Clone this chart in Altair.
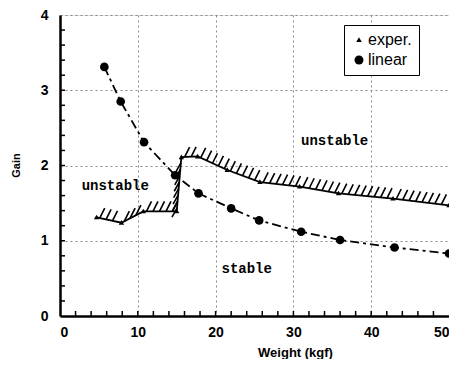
import altair as alt
import pandas as pd
import numpy as np

# ---- data ----
exper_x = [4.7, 7.9, 10.7, 15.0, 15.6, 17.7, 21.5, 25.7, 30.8, 35.8, 42.8, 50.0]
exper_y = [1.31, 1.24, 1.39, 1.39, 2.11, 2.12, 1.94, 1.78, 1.72, 1.63, 1.56, 1.47]
linear_x = [5.7, 7.8, 10.8, 14.8, 17.8, 22.0, 25.6, 31.0, 36.0, 43.0, 50.0]
linear_y = [3.31, 2.85, 2.31, 1.87, 1.63, 1.43, 1.27, 1.12, 1.01, 0.91, 0.83]
series_names = ["exper.", "linear"]
x_ticks = [0, 10, 20, 30, 40, 50]
y_ticks = [0, 1, 2, 3, 4]
regions = ["unstable", "unstable", "stable"]
region_x = [7.1, 35.3, 24.0]
region_y = [1.73, 2.33, 0.63]

W, H = 389, 301
XMAX, YMAX = 50, 4
FONT = "Liberation Sans"

df = pd.concat([
    pd.DataFrame({"x": exper_x, "y": exper_y, "s": series_names[0], "o": range(len(exper_x))}),
    pd.DataFrame({"x": linear_x, "y": linear_y, "s": series_names[1], "o": range(len(linear_x))}),
])

# hatch strokes along the experimental stability boundary (computed from the data)
def px(x):
    return x * W / XMAX

def py(y):
    return H - y * H / YMAX

rows = []
spacing = 6.5
for i in range(len(exper_x) - 1):
    ax, ay = px(exper_x[i]), py(exper_y[i])
    bx, by = px(exper_x[i + 1]), py(exper_y[i + 1])
    L = np.hypot(bx - ax, by - ay)
    vertical = abs(by - ay) > 2 * abs(bx - ax)
    d = (-5.0, 9.0) if vertical else (5.0, -10.0)
    n = int(L // spacing)
    for k in range(n):
        t = (k + 0.5) * spacing / L
        sx, sy = ax + t * (bx - ax), ay + t * (by - ay)
        ex, ey = sx + d[0], sy + d[1]
        rows.append({"x": sx * XMAX / W, "y": (H - sy) * YMAX / H,
                     "x2": ex * XMAX / W, "y2": (H - ey) * YMAX / H})
hatch = pd.DataFrame(rows)

xscale = alt.Scale(domain=[0, XMAX], nice=False, zero=False)
yscale = alt.Scale(domain=[0, YMAX], nice=False, zero=False)

xaxis = alt.Axis(values=x_ticks, format="d", title="Weight (kgf)", grid=True, gridDash=[2, 3],
                 gridColor="#888", gridWidth=1, ticks=False, labelPadding=9,
                 labelFont=FONT, labelFontSize=14, labelFontWeight="bold", labelColor="black",
                 titleFont=FONT, titleFontSize=13, titleFontWeight="bold", titleColor="black",
                 titleX=235, titleY=40, titleBaseline="alphabetic",
                 domainColor="black", domainWidth=2.5)
yaxis = alt.Axis(values=y_ticks, format="d", title="Gain", grid=True, gridDash=[2, 3],
                 gridColor="#888", gridWidth=1, ticks=False, labelPadding=12,
                 labelFont=FONT, labelFontSize=14, labelFontWeight="bold", labelColor="black",
                 titleFont=FONT, titleFontSize=11, titleFontWeight="bold", titleColor="black",
                 titleX=-44, titleY=150, titleAngle=270, titleBaseline="middle", titleAlign="center",
                 domainColor="black", domainWidth=2.5)

base = alt.Chart(df)

line_exper = base.transform_filter(alt.datum.s == series_names[0]).mark_line(
    color="black", strokeWidth=1.8).encode(
    x=alt.X("x:Q", scale=xscale, axis=xaxis),
    y=alt.Y("y:Q", scale=yscale, axis=yaxis),
    order="o:Q",
)
line_linear = base.transform_filter(alt.datum.s == series_names[1]).mark_line(
    color="black", strokeWidth=1.8, strokeDash=[9, 4, 3, 4]).encode(
    x=alt.X("x:Q", scale=xscale),
    y=alt.Y("y:Q", scale=yscale),
    order="o:Q",
)

tri = "M0,-0.62L0.62,0.45L-0.62,0.45Z"
points = base.mark_point(filled=True, color="black", opacity=1, size=75).encode(
    x=alt.X("x:Q", scale=xscale),
    y=alt.Y("y:Q", scale=yscale),
    shape=alt.Shape("s:N", scale=alt.Scale(domain=series_names, range=[tri, "circle"]),
                    legend=alt.Legend(title=None, orient="none", legendX=284, legendY=10,
                                      strokeColor="black", padding=7, labelFont=FONT,
                                      labelFontSize=16, labelColor="black", symbolSize=80,
                                      symbolFillColor="black", symbolStrokeColor="black",
                                      labelOffset=1, rowPadding=4, fillColor="white")),
)

hatches = alt.Chart(hatch).mark_rule(color="black", strokeWidth=1.6, clip=True).encode(
    x=alt.X("x:Q", scale=xscale), y=alt.Y("y:Q", scale=yscale), x2="x2:Q", y2="y2:Q")

minor_x = pd.DataFrame({"v": [v for v in range(2, 50, 2)]})
minor_y = pd.DataFrame({"v": [v / 5 for v in range(1, 20)]})
xt = alt.Chart(minor_x).mark_rule(color="black", strokeWidth=1.5).encode(
    x=alt.X("v:Q", scale=xscale), y=alt.value(H), y2=alt.value(H - 5))
yt = alt.Chart(minor_y).mark_rule(color="black", strokeWidth=1.5).encode(
    y=alt.Y("v:Q", scale=yscale), x=alt.value(0), x2=alt.value(5))

labels = alt.Chart(pd.DataFrame({"t": regions, "x": region_x, "y": region_y})).mark_text(
    font="Liberation Mono", fontSize=14, fontWeight="bold", color="black").encode(
    x=alt.X("x:Q", scale=xscale), y=alt.Y("y:Q", scale=yscale), text="t:N")

chart = alt.layer(hatches, xt, yt, line_exper, line_linear, points, labels).properties(
    width=W, height=H, autosize="none",
    padding={"left": 52, "top": 7, "right": 0, "bottom": 43},
).configure_view(stroke="black", strokeWidth=2).configure(background="white")

chart.save("out.html", embed_options={"renderer": "svg", "actions": False})
